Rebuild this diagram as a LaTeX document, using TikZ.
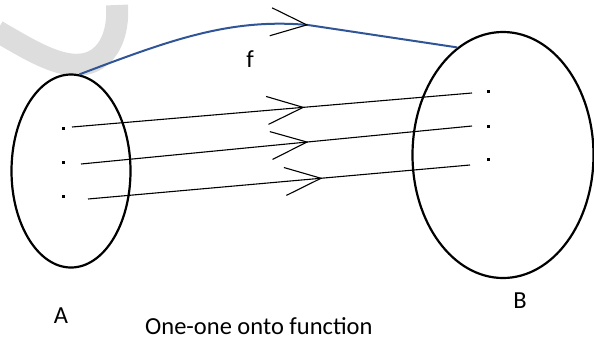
\documentclass[tikz,border=0pt]{standalone}
\usepackage{fontspec}
\setmainfont{Carlito}
\usepackage{tikz}
\usetikzlibrary{calc,shapes.geometric,decorations.markings}
\definecolor{fblue}{RGB}{47,85,151}
\definecolor{wmgray}{RGB}{221,221,221}

\begin{document}
\begin{tikzpicture}[
  x=1pt, y=-1pt,
  font=\fontsize{24.5}{29}\selectfont,
  set/.style={draw, ellipse, line width=2.2pt, inner sep=0pt},
  elem/.style={fill, rectangle, inner sep=0pt, minimum size=3pt},
  map/.style={line width=1.1pt, postaction=decorate,
    decoration={markings, mark=at position #1 with {\draw[black, line width=1.1pt] (-36pt,14pt) -- (0pt,0pt) -- (-36pt,-14pt);}}},
  fmap/.style={draw=fblue, line width=2pt},
  wmark/.style={draw=wmgray, line width=22pt}
]
\useasboundingbox (0,0) rectangle (594,341);
\begin{scope}
\clip (0,0) rectangle (594,341);
\draw[wmark] (-3,31) .. controls (30,50) and (60,69) .. (85,64) .. controls (108,59) and (119,35) .. (117,5);
\end{scope}
\node[set, minimum width=119pt, minimum height=193pt] (A) at (71,171) {};
\node[set, minimum width=181pt, minimum height=246pt] (B) at (503,155) {};
\node[elem] (a1) at (63,128) {};
\node[elem] (a2) at (63,162) {};
\node[elem] (a3) at (63,196) {};
\node[elem] (b1) at (488,91) {};
\node[elem] (b2) at (488,126) {};
\node[elem] (b3) at (488,159) {};
\node[anchor=base] (la) at (61,323) {A};
\node[anchor=base] (lb) at (520,308) {B};
\node[anchor=base] (lf) at (250,67) {f};
\node[anchor=base west, inner sep=0pt] (cap) at (145,334) {One-one onto function};
\coordinate (ftip) at (308,25);
\draw[map=0.578] ($(a1)+(9,-1)$) -- ($(b1)+(-16,2)$);
\draw[map=0.578] ($(a2)+(18,2)$) -- ($(b2)+(-16,0)$);
\draw[map=0.61] ($(a3)+(25,3)$) -- ($(b3)+(-18,6)$);
\draw[map=0.995, fmap] (A.85) .. controls (170,40) and (230,18) .. (ftip);
\draw[fmap] (ftip) -- (B.113);
\end{tikzpicture}
\end{document}
